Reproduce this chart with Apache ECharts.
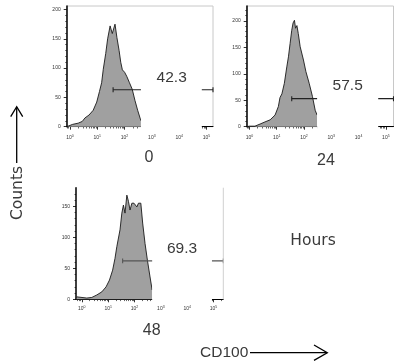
<!DOCTYPE html>
<html>
<head>
<meta charset="utf-8">
<script src="https://cdn.jsdelivr.net/npm/echarts@6/dist/echarts.min.js"></script>
<style>
  html, body { margin: 0; padding: 0; background: #fff; }
  #chart { width: 394px; height: 364px; }
</style>
</head>
<body>
<div id="chart"></div>
<script>
// x values are log10(CD100 intensity), y values are counts
const decades = [0, 1, 2, 3, 4, 5]
const yMajor = [[0, 50, 100, 150, 200], [0, 50, 100, 150, 200], [0, 50, 100, 150]]
const hoursLabels = ['0', '24', '48']
const gatePct = ['42.3', '57.5', '69.3']
const gateStart = [1.58, 1.55, 1.55]
const gateLevel = [63, 53, 62]

const hist0 = [
  [-0.12, 0], [-0.08, 2], [0.1, 4], [0.3, 6], [0.45, 9], [0.55, 15], [0.7, 20], [0.85, 28],
  [0.98, 42], [1.08, 60], [1.16, 75], [1.22, 98], [1.31, 125], [1.38, 150], [1.47, 172],
  [1.55, 159], [1.65, 175], [1.72, 152], [1.8, 130], [1.86, 110], [1.92, 97], [2.0, 93],
  [2.08, 86], [2.18, 75], [2.28, 64], [2.38, 45], [2.48, 28], [2.6, 10]
]
const hist24 = [
  [-0.1, 0], [0.0, 1], [0.2, 1], [0.39, 5], [0.57, 9], [0.76, 13], [0.94, 22], [1.06, 38],
  [1.12, 55], [1.19, 62], [1.28, 82], [1.37, 113], [1.43, 132], [1.49, 157], [1.55, 182],
  [1.6, 196], [1.65, 201], [1.69, 186], [1.74, 191], [1.79, 176], [1.86, 151], [1.98, 126],
  [2.07, 104], [2.19, 82], [2.31, 57], [2.41, 31], [2.48, 22]
]
const hist48 = [
  [-0.22, 0], [-0.2, 4], [-0.15, 1], [0.19, 2], [0.38, 3], [0.57, 7], [0.76, 12], [0.92, 20],
  [1.05, 31], [1.17, 47], [1.26, 66], [1.33, 85], [1.38, 88], [1.45, 112], [1.52, 139],
  [1.58, 152], [1.64, 139], [1.71, 168], [1.77, 158], [1.83, 144], [1.9, 155], [1.98, 155],
  [2.09, 149], [2.15, 155], [2.24, 155], [2.31, 123], [2.4, 90], [2.49, 63], [2.59, 36], [2.67, 15]
]
const histograms = [hist0, hist24, hist48]

// panel layout (pixels) and axis ranges
const panels = [
  { left: 66.7, top: 6, width: 146.3, height: 120.7, xMin: -0.12, xMax: 5.24, yMax: 206, cut: [2.6, 4.83], frame: true, xMargin: 7, capH: 4.3, gateColor: '#222', text: [171.7, 77.5], hour: [149, 158] },
  { left: 246.7, top: 6, width: 146.8, height: 120.7, xMin: -0.1, xMax: 5.28, yMax: 228, cut: [2.48, 4.72], frame: true, xMargin: 7, capH: 4.7, gateColor: '#222', text: [347.7, 85.5], hour: [326, 160.5] },
  { left: 76, top: 187.7, width: 147.3, height: 111.6, xMin: -0.22, xMax: 5.37, yMax: 180, cut: [2.67, 4.94], frame: false, xMargin: 6, capH: 4, gateColor: '#555', text: [182, 249], hour: [151.7, 331] }
]

const chart = echarts.init(document.getElementById('chart'), null, { renderer: 'canvas' })

const grids = [], xAxes = [], yAxes = [], series = []
panels.forEach((p, i) => {
  grids.push({
    left: p.left, top: p.top, width: p.width, height: p.height,
    show: p.frame, borderColor: '#c8c8c8', borderWidth: 1, backgroundColor: 'transparent'
  })

  const minorX = []
  for (let d = -1; d <= 5; d++) {
    for (let k = 2; k <= 9; k++) {
      const v = d + Math.log10(k)
      if (v > p.xMin && v < p.xMax) minorX.push(v)
    }
  }
  const minorY = []
  for (let v = 10; v < p.yMax; v += 10) if (v % 50) minorY.push(v)

  xAxes.push({
    type: 'value', gridIndex: i, min: p.xMin, max: p.xMax, position: 'bottom',
    axisLine: { show: true, onZero: false, lineStyle: { color: '#000', width: 1 } },
    axisTick: { show: true, customValues: decades, length: 3, lineStyle: { color: '#000', width: 0.8 } },
    axisLabel: {
      customValues: decades, margin: p.xMargin, color: '#333',
      formatter: v => '{b|10}{s|' + v + '}',
      rich: {
        b: { fontSize: 5, lineHeight: 6, verticalAlign: 'bottom', fontFamily: 'Liberation Sans' },
        s: { fontSize: 3.5, lineHeight: 6, verticalAlign: 'top', fontFamily: 'Liberation Sans' }
      }
    },
    splitLine: { show: false }
  })
  xAxes.push({
    type: 'value', gridIndex: i, min: p.xMin, max: p.xMax, position: 'bottom',
    axisLine: { show: false, onZero: false },
    axisTick: { show: true, customValues: minorX, length: 1.8, lineStyle: { color: '#000', width: 0.6 } },
    axisLabel: { show: false },
    splitLine: { show: false }
  })
  yAxes.push({
    type: 'value', gridIndex: i, min: 0, max: p.yMax, position: 'left',
    axisLine: { show: true, onZero: false, lineStyle: { color: '#000', width: 1.5 } },
    axisTick: { show: true, customValues: yMajor[i], length: 3, lineStyle: { color: '#000', width: 0.8 } },
    axisLabel: { customValues: yMajor[i], margin: 6, fontSize: 5, color: '#333', fontFamily: 'Liberation Sans' },
    splitLine: { show: false }
  })
  yAxes.push({
    type: 'value', gridIndex: i, min: 0, max: p.yMax, position: 'left',
    axisLine: { show: false, onZero: false },
    axisTick: { show: true, customValues: minorY, length: 1.5, lineStyle: { color: '#000', width: 0.6 } },
    axisLabel: { show: false },
    splitLine: { show: false }
  })

  const ax = { xAxisIndex: 2 * i, yAxisIndex: 2 * i }
  series.push({
    type: 'line', ...ax, data: histograms[i], symbol: 'none', silent: true,
    lineStyle: { color: '#1a1a1a', width: 0.9 },
    areaStyle: { color: '#a0a0a0', opacity: 1 }
  })
  // gate bar with end caps
  const gs = gateStart[i], gl = gateLevel[i]
  const gateSegs = [
    [[gs, gl - p.capH], [gs, gl + p.capH]],
    [[gs, gl], [p.xMax, gl]],
    [[p.xMax, gl - p.capH], [p.xMax, gl + p.capH]]
  ]
  gateSegs.forEach(seg => series.push({
    type: 'line', ...ax, data: seg, symbol: 'none', silent: true, z: 3,
    lineStyle: { color: p.gateColor, width: 1.1 }
  }))
})

chart.setOption({
  animation: false,
  grid: grids, xAxis: xAxes, yAxis: yAxes, series: series
})

// white masks over the middle of each panel, placed through the axes
const graphics = []
panels.forEach((p, i) => {
  const a = chart.convertToPixel({ xAxisIndex: 2 * i, yAxisIndex: 2 * i }, [p.cut[0], 0])
  const b = chart.convertToPixel({ xAxisIndex: 2 * i, yAxisIndex: 2 * i }, [p.cut[1], 0])
  graphics.push({
    type: 'rect', z: 50, silent: true,
    shape: { x: a[0], y: p.top + 1, width: b[0] - a[0], height: a[1] - p.top + 3.5 },
    style: { fill: '#fff' }
  })
  if (!p.frame) {
    graphics.push({
      type: 'line', z: 40, silent: true,
      shape: { x1: p.left + p.width, y1: p.top, x2: p.left + p.width, y2: p.top + p.height },
      style: { stroke: '#d0d0d0', lineWidth: 1 }
    })
  }
  graphics.push({
    type: 'text', z: 100, x: p.text[0], y: p.text[1],
    style: { text: gatePct[i], font: '15.5px "Liberation Sans"', fill: '#3a3a3a', align: 'center', verticalAlign: 'middle' }
  })
  graphics.push({
    type: 'text', z: 100, x: p.hour[0], y: p.hour[1],
    style: { text: hoursLabels[i], font: '16px "Liberation Sans"', fill: '#3a3a3a', align: 'center', verticalAlign: 'middle' }
  })
})

graphics.push(
  {
    type: 'text', z: 100, x: 313, y: 241,
    style: { text: 'Hours', font: '15.5px "DejaVu Sans"', fill: '#3a3a3a', align: 'center', verticalAlign: 'middle' }
  },
  {
    type: 'text', z: 100, x: 17.5, y: 193, rotation: Math.PI / 2,
    style: { text: 'Counts', font: '15.5px "DejaVu Sans"', fill: '#3a3a3a', align: 'center', verticalAlign: 'middle' }
  },
  {
    type: 'text', z: 100, x: 200, y: 353,
    style: { text: 'CD100', font: '15.5px "Liberation Sans"', fill: '#3a3a3a', align: 'left', verticalAlign: 'middle' }
  },
  // axis arrows
  { type: 'line', z: 100, shape: { x1: 16.7, y1: 163, x2: 16.7, y2: 107 }, style: { stroke: '#000', lineWidth: 1.3 } },
  { type: 'polyline', z: 100, shape: { points: [[10.7, 116.7], [16.7, 106.7], [22.7, 116.7]] }, style: { stroke: '#000', lineWidth: 1.3, fill: null } },
  { type: 'line', z: 100, shape: { x1: 250, y1: 352.7, x2: 327, y2: 352.7 }, style: { stroke: '#000', lineWidth: 1.3 } },
  { type: 'polyline', z: 100, shape: { points: [[314, 345], [327.3, 352.7], [314, 360.4]] }, style: { stroke: '#000', lineWidth: 1.3, fill: null } }
)

chart.setOption({ graphic: graphics })

window.addEventListener('resize', () => chart.resize())
</script>
</body>
</html>
